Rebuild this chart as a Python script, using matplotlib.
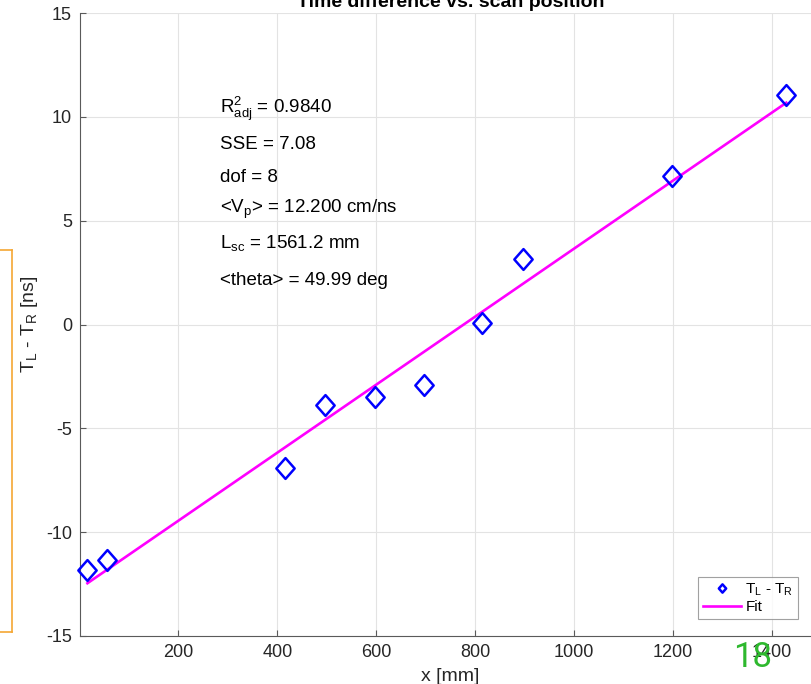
import matplotlib
matplotlib.use("Agg")
import matplotlib.pyplot as plt
from matplotlib.path import Path
from matplotlib.lines import Line2D

# ---------------- data ----------------
x_mm = [16, 56, 416, 497, 598, 697, 814, 897, 1198, 1429]
dt_ns = [-11.80, -11.33, -6.93, -3.89, -3.51, -2.93, 0.06, 3.14, 7.14, 11.03]
fit_x = [16, 1429]
fit_y = [-12.46, 10.68]
x_ticks = [200, 400, 600, 800, 1000, 1200, 1400]
y_ticks = [-15, -10, -5, 0, 5, 10, 15]
stats_lines = [
    r"R$^{2}_{\mathrm{adj}}$ = 0.9840",
    "SSE = 7.08",
    "dof = 8",
    r"<V$_{\mathrm{p}}$> = 12.200 cm/ns",
    r"L$_{\mathrm{sc}}$ = 1561.2 mm",
    "<theta> = 49.99 deg",
]
stats_y = [10.17, 8.45, 6.84, 5.35, 3.66, 1.89]

plt.rcParams["font.family"] = ["Liberation Sans", "DejaVu Sans"]
plt.rcParams["mathtext.fontset"] = "custom"
plt.rcParams["mathtext.rm"] = "Liberation Sans"
plt.rcParams["mathtext.it"] = "Liberation Sans:italic"
plt.rcParams["mathtext.bf"] = "Liberation Sans:bold"
plt.rcParams["axes.unicode_minus"] = False

W, H = 811, 684
fig = plt.figure(figsize=(W / 100, H / 100), dpi=100)
fig.patch.set_facecolor("white")

ax_l, ax_r, ax_t, ax_b = 79.5, 821.4, 13.0, 636.0
ax = fig.add_axes([ax_l / W, (H - ax_b) / H, (ax_r - ax_l) / W, (ax_b - ax_t) / H])

# MATLAB-like diamond marker
diamond = Path([(0, 1), (0.88, 0), (0, -1), (-0.88, 0), (0, 1)],
               [Path.MOVETO, Path.LINETO, Path.LINETO, Path.LINETO, Path.CLOSEPOLY])

ax.plot(x_mm, dt_ns, linestyle="none", marker=diamond, markersize=15,
        markerfacecolor="none", markeredgecolor="#0000ff", markeredgewidth=1.8,
        label=r"T$_{\mathrm{L}}$ - T$_{\mathrm{R}}$", zorder=3, clip_on=False)
ax.plot(fit_x, fit_y, color="#ff00ff", linewidth=1.9, label="Fit", zorder=2)

ax.set_xlim(0, 1500)
ax.set_ylim(-15, 15)
ax.set_xticks(x_ticks)
ax.set_yticks(y_ticks)

ax.grid(True, color="#e3e3e3", linewidth=0.8)
ax.set_axisbelow(True)
for s in ("top", "right"):
    ax.spines[s].set_visible(False)
for s in ("left", "bottom"):
    ax.spines[s].set_color("#5a5a5a")
    ax.spines[s].set_linewidth(0.8)

ax.tick_params(direction="in", length=4.3, width=0.8, color="#5a5a5a",
               labelsize=13, labelcolor="#262626")
ax.tick_params(axis="y", pad=5.4)
ax.tick_params(axis="x", pad=6)

ax.set_xlabel("x [mm]", fontsize=14, color="#262626", labelpad=5)
ax.set_ylabel(r"T$_{\mathrm{L}}$ - T$_{\mathrm{R}}$ [ns]", fontsize=14,
              color="#262626", labelpad=4.5)
ax.set_title("Time difference vs. scan position", fontsize=14, fontweight="bold",
             color="#000000", pad=4)

for txt, yv in zip(stats_lines, stats_y):
    ax.text(285, yv, txt, fontsize=13.5, color="black", va="baseline", ha="left")

leg = fig.legend(loc="upper left", bbox_to_anchor=(698 / W, 1 - 577 / H),
                 bbox_transform=fig.transFigure, borderaxespad=0,
                 fontsize=11, frameon=True, fancybox=False, markerscale=0.4,
                 handlelength=2.5, handletextpad=0.3, borderpad=0.3,
                 labelspacing=0.15)
leg.get_frame().set_edgecolor("#8a8a8a")
leg.get_frame().set_linewidth(0.8)
for t in leg.get_texts():
    t.set_color("#000000")

# overlay annotations present in the reference
orange = "#f5a733"
fig.add_artist(Line2D([12 / W, 12 / W], [1 - 250 / H, 1 - 632 / H],
                      transform=fig.transFigure, color=orange, linewidth=1.2))
fig.add_artist(Line2D([0, 12 / W], [1 - 250 / H, 1 - 250 / H],
                      transform=fig.transFigure, color=orange, linewidth=1.2))
fig.add_artist(Line2D([0, 12 / W], [1 - 632 / H, 1 - 632 / H],
                      transform=fig.transFigure, color=orange, linewidth=1.2))
fig.text(733 / W, 1 - 667 / H, "18", fontsize=25, color="#2eb82e",
         family=["Roboto", "DejaVu Sans"], fontweight="normal",
         ha="left", va="baseline", zorder=10)

fig.savefig("out.png", dpi=100)
